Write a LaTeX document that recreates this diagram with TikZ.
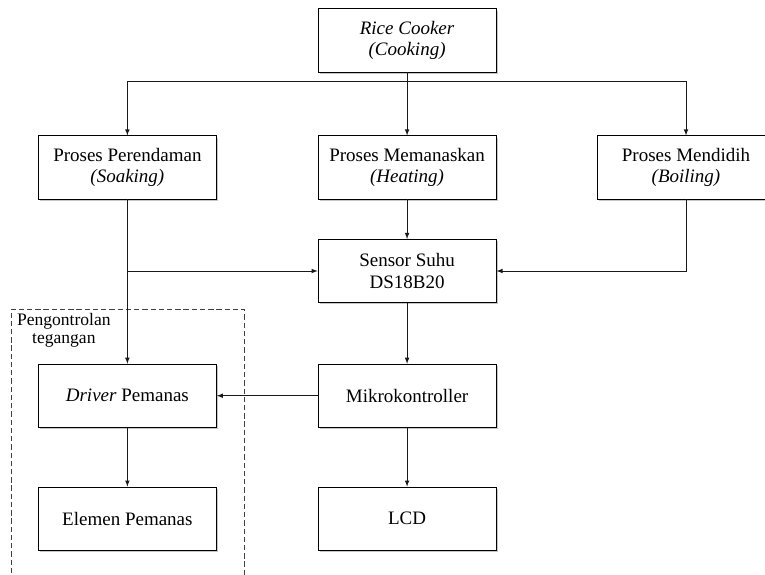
\documentclass[tikz,border=0pt]{standalone}
\usepackage{fontspec}
\setmainfont{Liberation Serif}
\usepackage{tikz}
\usetikzlibrary{positioning, calc}
\usetikzlibrary{shadows}
\usetikzlibrary{arrows}

\tikzset{
    blok/.style={draw, line width=0.6pt, fill=white, minimum width=4.71cm, minimum height=1.67cm,
        align=center, font=\fontsize{14.3}{16}\selectfont,
        drop shadow={shadow xshift=0.05cm, shadow yshift=-0.05cm, opacity=0.45}},
    alur/.style={->, >=latex, line width=0.6pt, black!90}
}

\begin{document}
\begin{tikzpicture}
                \useasboundingbox (0,0) rectangle (20.24,-15.19);
                % kotak proses
                \node[blok] (rice) at (10.77,-1.07) {\textit{Rice Cooker}\\\textit{(Cooking)}};
                \node[blok] (rendam) at (3.37,-4.43) {Proses Perendaman\\\textit{(Soaking)}};
                \node[blok] (panas) at (10.77,-4.43) {Proses Memanaskan\\\textit{(Heating)}};
                \node[blok] (didih) at (18.15,-4.43) {Proses Mendidih\\\textit{(Boiling)}};
                \node[blok] (sensor) at (10.77,-7.17) {Sensor Suhu\\DS18B20};
                \node[blok] (mikro) at (10.77,-10.47) {Mikrokontroller};
                \node[blok] (driver) at (3.37,-10.47) {\textit{Driver} Pemanas};
                \node[blok] (lcd) at (10.77,-13.72) {LCD};
                \node[blok] (elemen) at (3.37,-13.72) {Elemen Pemanas};
                % kotak putus-putus
                \draw[dash pattern=on 4pt off 2.2pt, line width=0.6pt, black!75] (0.29,-15.6) |- (6.46,-8.18) -- (6.46,-15.6);
                \node[align=center, inner sep=0pt, font=\fontsize{13.2}{13.6}\selectfont] (kendali) at (1.69,-8.73) {Pengontrolan\\tegangan};
                % percabangan
                \coordinate (cabang) at ($(rice.south)+(0,-0.24)$);
                \draw[alur] (rice) -- (panas);
                \draw[alur] (cabang) -| (rendam);
                \draw[alur] (cabang) -| (didih);
                \draw[alur] (rendam) -- (driver);
                \draw[alur] (rendam |- sensor) -- (sensor);
                \draw[alur] (didih) |- (sensor);
                \draw[alur] (panas) -- (sensor);
                \draw[alur] (sensor) -- (mikro);
                \draw[alur] (mikro) -- (driver);
                \draw[alur] (mikro) -- (lcd);
                \draw[alur] (driver) -- (elemen);
            \end{tikzpicture}
\end{document}
